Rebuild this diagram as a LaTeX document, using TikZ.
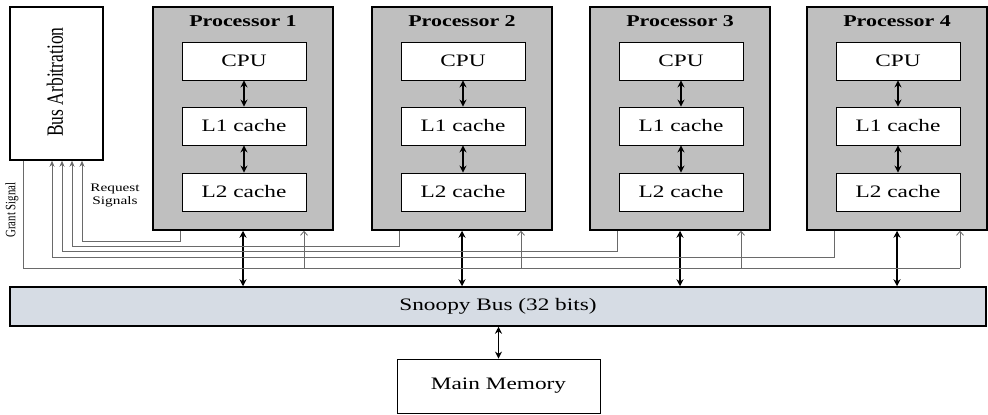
\documentclass[tikz,border=0pt]{standalone}
\usepackage{fontspec}
\usepackage{graphicx}
\setmainfont{Liberation Serif}
\usetikzlibrary{arrows.meta}
\newcommand\hs[1]{\scalebox{1.33}[1]{#1}}
\newcommand\vs[1]{\scalebox{1}[1.33]{#1}}
\definecolor{procgray}{HTML}{BFBFBF}
\definecolor{busfill}{HTML}{D6DCE4}
\definecolor{wiregray}{HTML}{6A6A6A}
\tikzset{
  procbox/.style={draw=black, line width=1.5pt, fill=procgray, minimum width=180pt, minimum height=223pt, inner sep=0pt},
  unitbox/.style={draw=black, line width=0.8pt, fill=white, minimum width=124pt, minimum height=38pt, inner sep=0pt, font=\fontsize{17.5}{20}\selectfont},
  titletext/.style={font=\fontsize{16.5}{19}\selectfont\bfseries, inner sep=0pt},
  bigarrow/.style={line width=1.2pt, {Stealth[length=7pt,width=7pt]}-{Stealth[length=7pt,width=7pt]}},
  reqline/.style={draw=wiregray, line width=0.8pt, -{Stealth[length=6pt,width=5pt]}},
  grantline/.style={draw=wiregray, line width=0.8pt},
  grantarrow/.style={draw=wiregray, line width=0.8pt, -{Straight Barb[length=4pt,width=7pt]}}
}
\begin{document}
\begin{tikzpicture}[x=1pt,y=-1pt]
\useasboundingbox (0,0) rectangle (988,415);

% Bus arbitration
\node[draw=black, line width=1.5pt, fill=white, minimum width=93pt, minimum height=153pt, inner sep=0pt] (arb) at (56.5,83.5) {};
\node[rotate=90, inner sep=0pt, font=\fontsize{17.5}{20}\selectfont] (arbtext) at (55,82) {\vs{Bus Arbitration}};

% Processors
\foreach \i/\L in {1/153,2/372,3/590,4/807}{
  \node[procbox] (p\i) at (\L+90,118.5) {};
  \node[titletext] (t\i) at (\L+90,21) {\hs{Processor \i}};
  \node[unitbox] (cpu\i) at (\L+91,61) {\hs{CPU}};
  \node[unitbox] (lone\i) at (\L+91,126) {\hs{L1 cache}};
  \node[unitbox] (ltwo\i) at (\L+91,192) {\hs{L2 cache}};
  \draw[bigarrow] (cpu\i.south) -- (lone\i.north);
  \draw[bigarrow] (lone\i.south) -- (ltwo\i.north);
}

% Bus
\node[draw=black, line width=1.5pt, fill=busfill, minimum width=976pt, minimum height=39pt, inner sep=0pt, font=\fontsize{17.5}{20}\selectfont] (bus) at (498,306.5) {\hs{Snoopy Bus (32 bits)}};

% Main memory
\node[draw=black, line width=0.8pt, fill=white, minimum width=203pt, minimum height=54pt, inner sep=0pt, font=\fontsize{17.5}{20}\selectfont] (mem) at (498.5,386) {\hs{Main Memory}};

\draw[bigarrow] (bus.south -| mem.north) -- (mem.north);

% Processor <-> bus arrows
\foreach \i in {1,2,3,4}{
  \draw[bigarrow] (p\i.south) -- (p\i.south |- bus.north);
}

% Request lines
\coordinate (r1) at (82,241);
\coordinate (r2) at (72,246);
\coordinate (r3) at (62,251);
\coordinate (r4) at (52,257);
\foreach \i in {1,2,3,4}{
  \draw[reqline] ([xshift=28pt]p\i.south west) |- (r\i) -- (r\i |- arb.south);
}

% Grant line
\coordinate (g0) at (23,268);
\coordinate (g4) at (960,268);
\draw[grantline] (g0 |- arb.south) -- (g0) -- (g4);
\draw[grantarrow] (g4) -- (g4 |- p4.south);
\coordinate (g1) at (304,268);
\coordinate (g2) at (521,268);
\coordinate (g3) at (741,268);
\foreach \i in {1,2,3}{
  \draw[grantarrow] (g\i) -- (g\i |- p\i.south);
}

% Labels
\node[align=center, inner sep=0pt, font=\fontsize{11.5}{13}\selectfont] (reqlabel) at (115,195) {\hs{Request}\\\hs{Signals}};
\node[rotate=90, inner sep=0pt, font=\fontsize{10.8}{12}\selectfont] (grantlabel) at (12,210) {\vs{Grant Signal}};
\end{tikzpicture}
\end{document}
